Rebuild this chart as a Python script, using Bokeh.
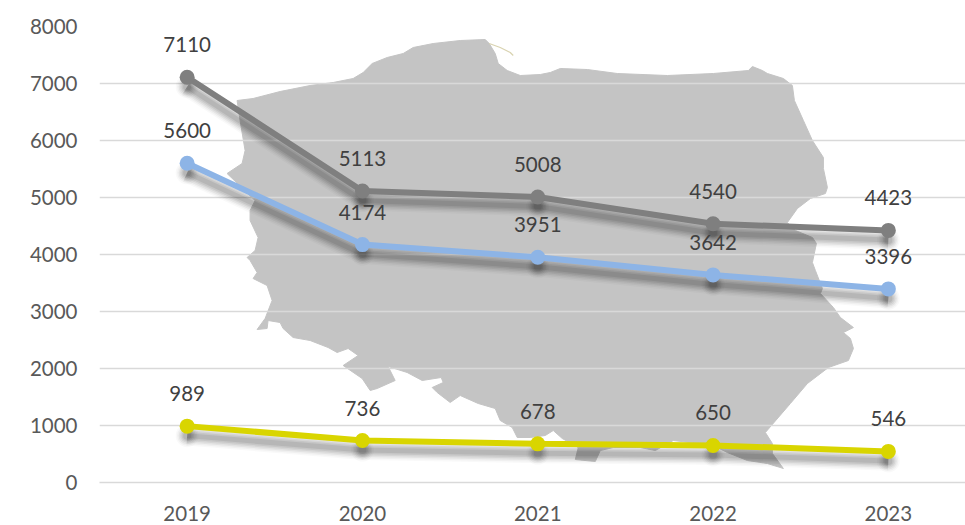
from bokeh.plotting import figure
from bokeh.models import Range1d, FixedTicker
from bokeh.core.properties import value
from bokeh.embed import file_html
from bokeh.resources import INLINE

years = [2019, 2020, 2021, 2022, 2023]
tick_values = [0, 1000, 2000, 3000, 4000, 5000, 6000, 7000, 8000]
series_grey = [7110, 5113, 5008, 4540, 4423]
series_blue = [5600, 4174, 3951, 3642, 3396]
series_yellow = [989, 736, 678, 650, 546]

# Outline of the background map, in the picture's own units
map_x = [237,253,280,310,333,353,363,372,387,403,413,433,460,485,489,495,498,507,520,540,550,560,587,617,667,713,748,752,762,767,783,792,794,803,812,823,823,827,825,810,797,787,795,812,816,812,815,822,820,833,840,853,843,850,853,848,828,807,790,765,772,772,783,767,747,727,717,697,673,655,640,613,600,595,575,578,562,553,545,530,517,512,500,495,478,460,450,437,432,443,441,422,407,388,395,377,370,362,343,358,348,337,328,310,293,283,280,268,267,257,265,272,267,253,257,250,247,255,258,250,250,255,227,242,245,240]
map_y = [100,98,91,85,82,78,72,63,57,53,47,43,40,39,43,53,63,70,75,74,72,68,69,73,75,73,70,66,70,73,78,85,100,120,140,157,168,187,193,198,208,222,230,237,243,262,270,288,293,307,317,327,332,338,348,360,367,383,403,432,443,453,468,463,460,452,447,443,440,450,447,447,450,461,459,447,438,430,435,437,437,427,420,408,403,395,402,392,387,382,377,380,372,366,380,388,390,378,365,355,348,352,347,340,337,328,322,320,328,329,318,300,285,278,272,260,257,250,237,220,210,200,173,163,150,120]
spit_x = [489, 500, 510, 513]
spit_y = [43, 47, 52, 55]

LEFT, TOP, RIGHT, BOTTOM = 99.5, 26, 965, 482
SCALE = (BOTTOM - TOP) / 8000
XSTEP = 175.2
W, H = 965, 525

p = figure(width=W, height=H, output_backend="svg", toolbar_location=None,
           x_range=Range1d(2018.5, 2018.5 + (RIGHT - LEFT) / XSTEP),
           y_range=Range1d(0, 8000),
           min_border_left=int(LEFT), min_border_right=0,
           min_border_top=TOP, min_border_bottom=H - BOTTOM,
           background_fill_color="white", border_fill_color="white")
p.outline_line_color = None

p.extra_x_ranges["map"] = Range1d(LEFT, RIGHT)
p.extra_y_ranges["map"] = Range1d(BOTTOM, TOP)
m = p.patch(map_x, map_y, x_range_name="map", y_range_name="map",
            fill_color="#c4c4c4", line_color="#c4c4c4", line_width=1, level="image")
s = p.line(spit_x, spit_y, x_range_name="map", y_range_name="map",
           line_color="#d9d3b0", line_width=1.2, level="image")

p.xgrid.visible = False
p.ygrid.grid_line_color = "#d9d9d9"
p.ygrid.grid_line_width = 1.6
p.ygrid.ticker = FixedTicker(ticks=tick_values)

p.yaxis.ticker = FixedTicker(ticks=tick_values)
p.yaxis.axis_line_color = None
p.yaxis.major_tick_line_color = None
p.yaxis.minor_tick_line_color = None
p.yaxis.major_label_standoff = 16
p.yaxis.major_label_text_font = "Lato"
p.yaxis.major_label_text_font_size = "20.5px"
p.yaxis.major_label_text_color = "#595959"

p.xaxis.ticker = FixedTicker(ticks=years)
p.xaxis.axis_line_color = "#d9d9d9"
p.xaxis.axis_line_width = 1.6
p.xaxis.major_tick_line_color = None
p.xaxis.minor_tick_line_color = None
p.xaxis.major_label_standoff = 17
p.xaxis.major_label_text_font = "Lato"
p.xaxis.major_label_text_font_size = "20.5px"
p.xaxis.major_label_text_color = "#595959"

# Soft shadow: stacked translucent copies drawn on shifted scales
layers = [(9.5, 20, 0.025), (9.5, 17, 0.035), (9.5, 14, 0.05), (9.5, 11, 0.06), (9.5, 8, 0.07), (9.5, 5, 0.08)]
for i, (dy, lw, a) in enumerate(layers):
    name = f"shadow{i}"
    shift = dy / SCALE
    p.extra_y_ranges[name] = Range1d(shift, 8000 + shift)
    for vals in (series_grey, series_blue, series_yellow):
        p.line(years, vals, y_range_name=name, line_color="black", line_alpha=a, line_width=lw)
        p.scatter(years, vals, y_range_name=name, size=lw + 3, fill_color="black",
                  fill_alpha=a, line_color=None)

for vals, col in ((series_grey, "#7f7f7f"), (series_blue, "#8db4e6"), (series_yellow, "#d9d500")):
    p.line(years, vals, line_color=col, line_width=6)
    p.scatter(years, vals, size=15, fill_color=col, line_color=None)
    p.text(years, vals, text=[str(v) for v in vals], text_font=value("Lato"),
           text_font_size="20.5px", text_color="#404040", text_align="center",
           text_baseline="middle", y_offset=-32.5)

open("out.html", "w").write(file_html(p, INLINE))
